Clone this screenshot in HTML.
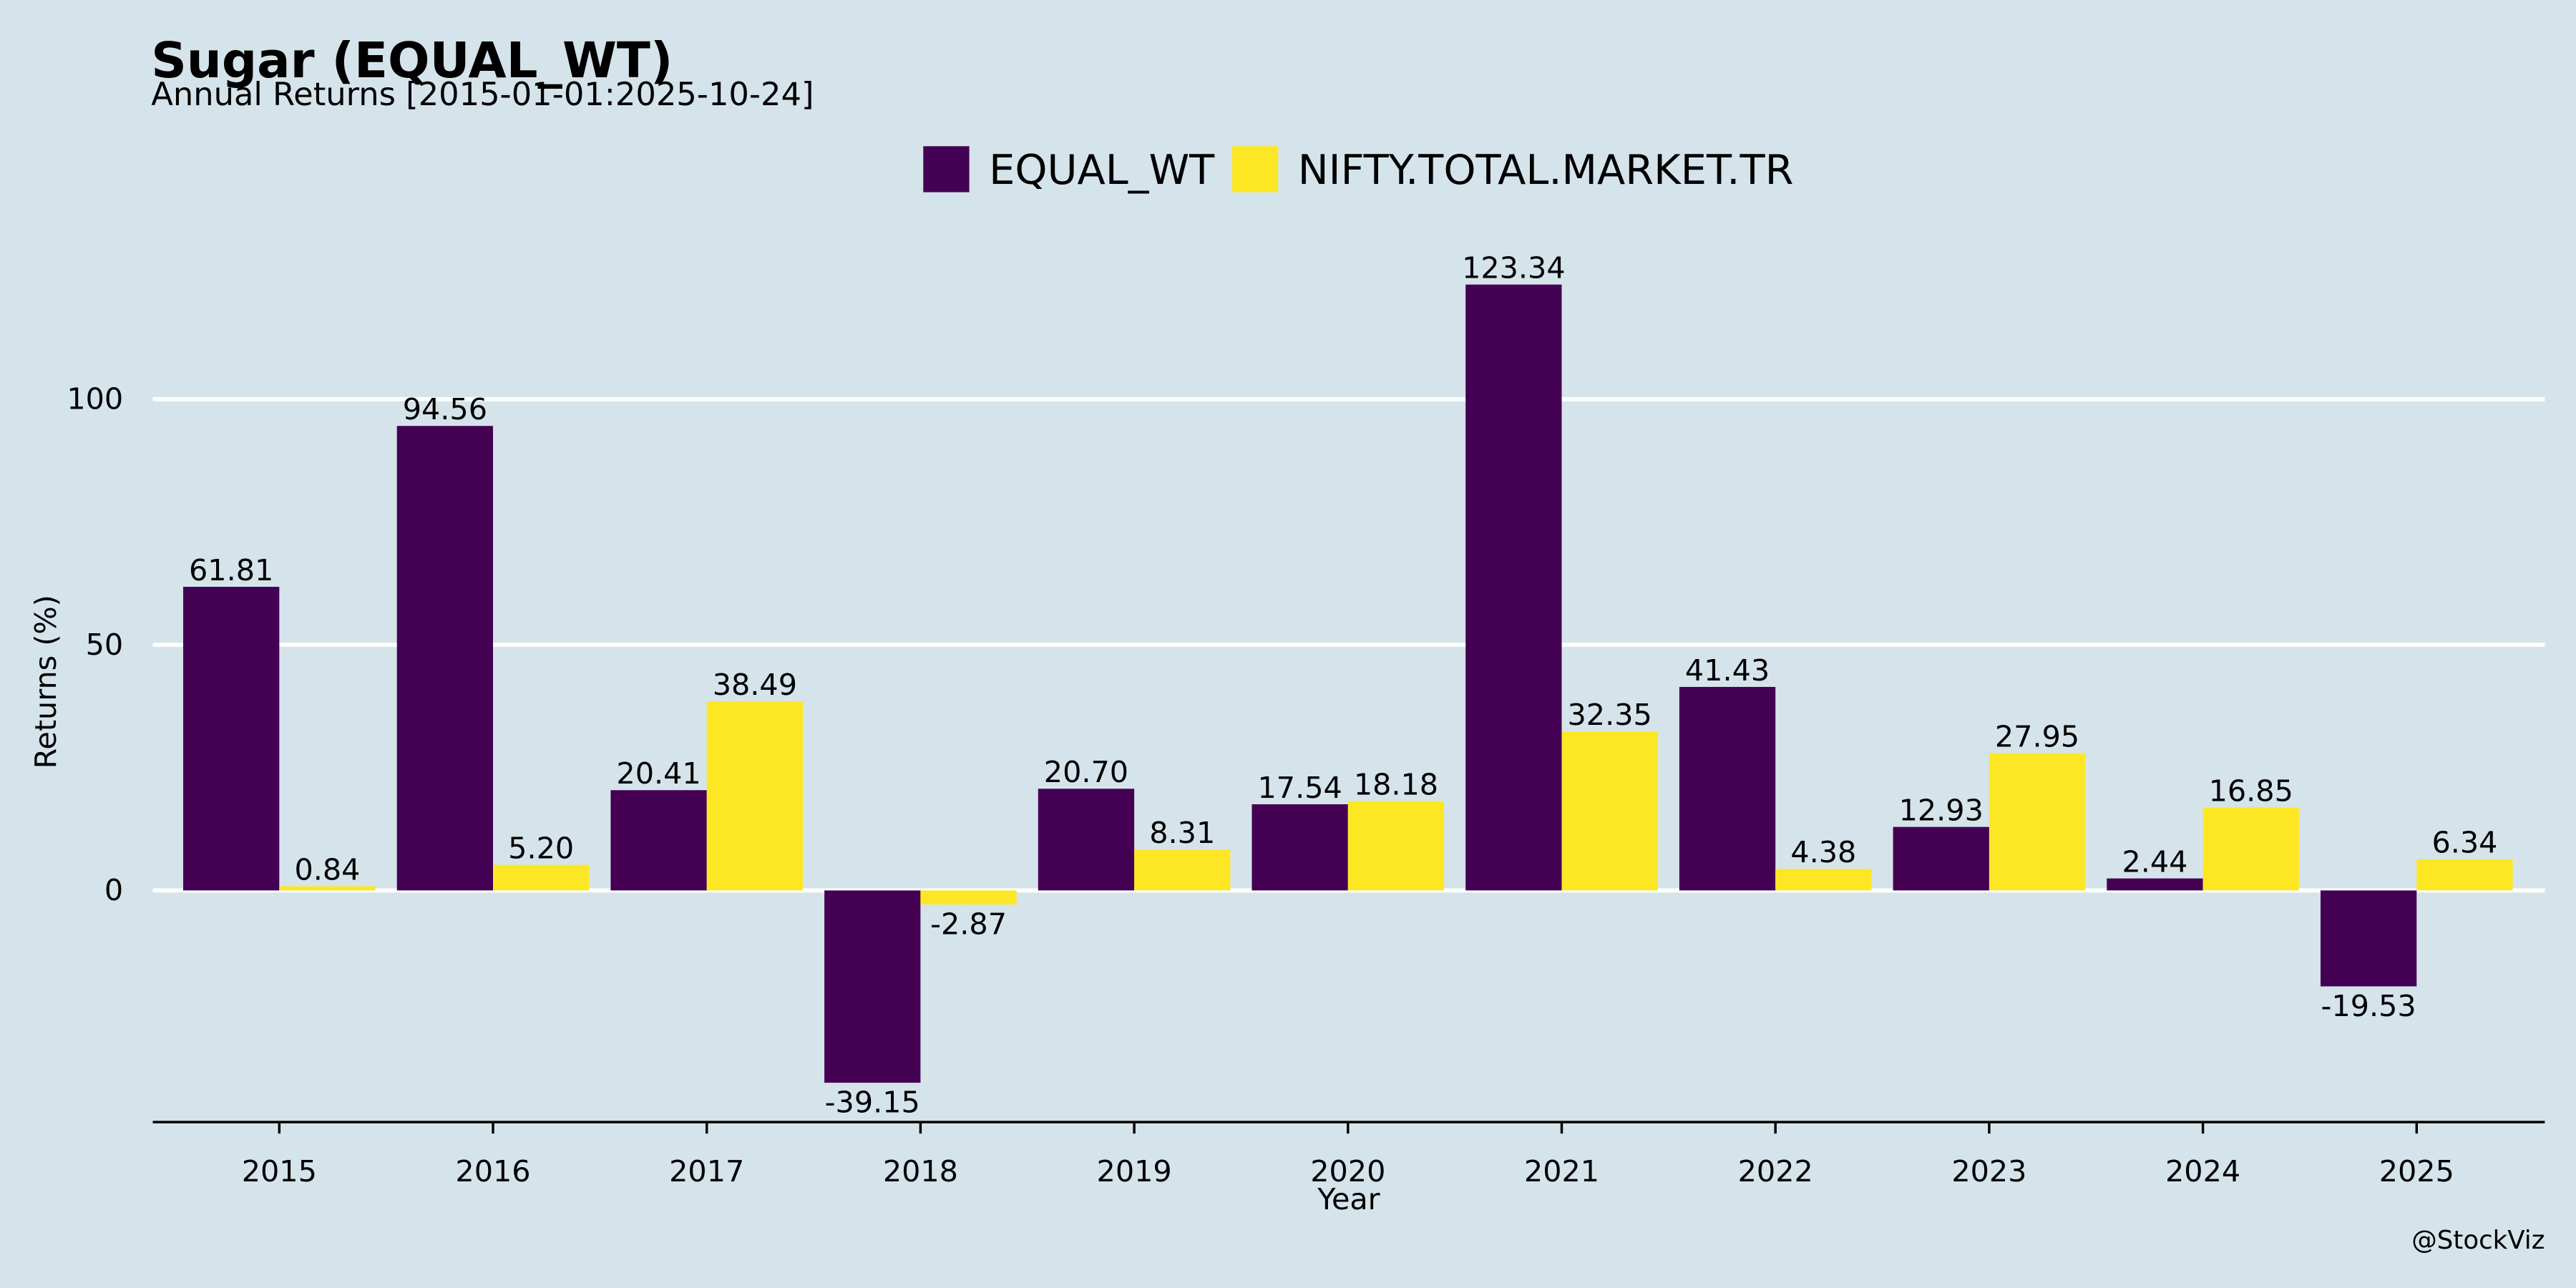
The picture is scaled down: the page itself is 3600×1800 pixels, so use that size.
<!DOCTYPE html>
<html><head><meta charset="utf-8">
<style>
html,body{margin:0;padding:0;background:#d5e4eb;}
svg{display:block;font-family:"DejaVu Sans","Liberation Sans",sans-serif;}
</style></head>
<body>
<svg id="chart" width="3600" height="1800" viewBox="0 0 1568 784" xmlns="http://www.w3.org/2000/svg">
<rect x="0" y="0" width="1568" height="784" fill="#d5e4eb"/>
<text x="92" y="47" font-size="30" font-weight="bold" fill="#000">Sugar (EQUAL_WT)</text>
<text x="92" y="64" font-size="19.5" fill="#000">Annual Returns [2015-01-01:2025-10-24]</text>
<g>
<g>
<rect x="562" y="89" width="28" height="28" fill="#440154"/>
<text x="602" y="112" font-size="25" fill="#000">EQUAL_WT</text>
</g>
<g>
<rect x="750" y="89" width="28" height="28" fill="#fde725"/>
<text x="790" y="112" font-size="25" fill="#000">NIFTY.TOTAL.MARKET.TR</text>
</g>
</g>
<g id="grid"></g>
<g id="bars"></g>
<g id="labels"></g>
<g id="xaxis"></g>
<g id="yaxis"></g>
<text x="821" y="736" font-size="18" text-anchor="middle" fill="#000">Year</text>
<text transform="translate(34,415) rotate(-90)" font-size="18" text-anchor="middle" fill="#000">Returns (%)</text>
<text x="1549" y="760" font-size="15.5" text-anchor="end" fill="#000">@StockViz</text>
</svg>
<script>
const years = ["2015","2016","2017","2018","2019","2020","2021","2022","2023","2024","2025"];
const equalWt = [61.81, 94.56, 20.41, -39.15, 20.70, 17.54, 123.34, 41.43, 12.93, 2.44, -19.53];
const nifty = [0.84, 5.20, 38.49, -2.87, 8.31, 18.18, 32.35, 4.38, 27.95, 16.85, 6.34];
const yTicks = [0, 50, 100];

const NS = "http://www.w3.org/2000/svg";
const y0px = 542, unitPx = (542 - 243) / 100;
function yScale(v){ return y0px - v * unitPx; }
const firstX = 170, stepX = (1471 - 170) / 10, barW = 58.5;
function xScale(i){ return firstX + i * stepX; }
function mk(tag, attrs, parent){
  const el = document.createElementNS(NS, tag);
  for (const k in attrs) el.setAttribute(k, attrs[k]);
  parent.appendChild(el);
  return el;
}
const grid = document.getElementById("grid");
const yaxis = document.getElementById("yaxis");
yTicks.forEach(t => {
  const l = mk("line", {x1:93, x2:1549, y1:yScale(t), y2:yScale(t), stroke:"#ffffff", "stroke-width":2.5}, grid);
  
  
  const tx = mk("text", {x:75, y:yScale(t)+6, "font-size":18, "text-anchor":"end", fill:"#000"}, yaxis);
  tx.textContent = t;
  
  
});
const bars = document.getElementById("bars");
const labels = document.getElementById("labels");
function drawSeries(vals, color, offset, name){
  vals.forEach((v, i) => {
    const x = xScale(i) + offset;
    const top = Math.min(yScale(v), yScale(0));
    const h = Math.abs(yScale(v) - yScale(0));
    const r = mk("rect", {x:x, y:top, width:barW, height:h, fill:color}, bars);
    
    
    const ly = v >= 0 ? yScale(v) - 4 : yScale(v) + 18;
    const t = mk("text", {x:x + barW/2, y:ly, "font-size":18, "text-anchor":"middle", fill:"#000"}, labels);
    t.textContent = v.toFixed(2);
    
    
  });
}
drawSeries(equalWt, "#440154", -barW, "equal-wt");
drawSeries(nifty, "#fde725", 0, "nifty");
const xaxis = document.getElementById("xaxis");
const axl = mk("line", {x1:93, x2:1549, y1:683, y2:683, stroke:"#000", "stroke-width":1.5}, xaxis);


years.forEach((yr, i) => {
  const tk = mk("line", {x1:xScale(i), x2:xScale(i), y1:683, y2:690, stroke:"#000", "stroke-width":1.5}, xaxis);
  
  
  const t = mk("text", {x:xScale(i), y:719, "font-size":18, "text-anchor":"middle", fill:"#000"}, xaxis);
  t.textContent = yr;
  
  
});
</script>
</body></html>
